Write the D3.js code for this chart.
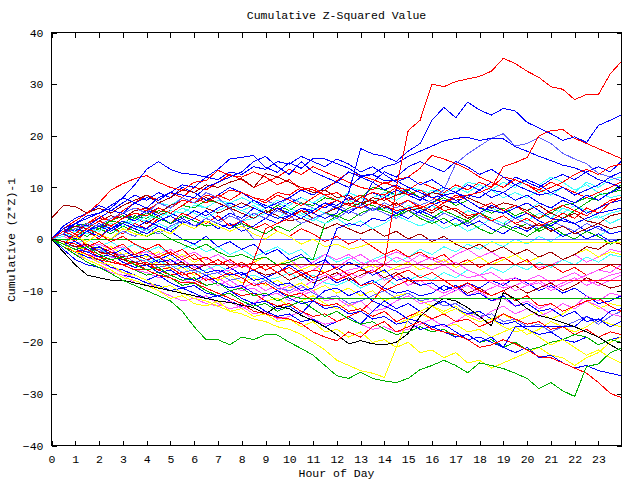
<!DOCTYPE html>
<html><head><meta charset="utf-8">
<script src="https://cdn.jsdelivr.net/npm/d3@7"></script>
<style>
body{margin:0;background:#fff}
svg{display:block}
text{font-family:"Liberation Mono","DejaVu Sans Mono",monospace;font-size:11.5px;fill:#000}
</style>
</head><body>
<svg id="c" width="640" height="480"></svg>
<script>
// ---- data ----
const hours=[0,0.5,1,1.5,2,2.5,3,3.5,4,4.5,5,5.5,6,6.5,7,7.5,8,8.5,9,9.5,10,10.5,11,11.5,12,12.5,13,13.5,14,14.5,15,15.5,16,16.5,17,17.5,18,18.5,19,19.5,20,20.5,21,21.5,22,22.5,23,23.5,23.95];
const xTickLabels=[0,1,2,3,4,5,6,7,8,9,10,11,12,13,14,15,16,17,18,19,20,21,22,23];
const yTickLabels=[-40,-30,-20,-10,0,10,20,30,40];

const redTop=[0,-1,1,-1.5,-0.5,-2,-1,-3, -2,-3.5,-2.5,-4,-3,-5,-4,-5.5, -4.5,-6,-5,-6.5,-5.5,-7,-6,-6.5, -5.5,-7,-6,-6.5,-5,10,21,23, 30,29.5,30.5,31,31.5,32.5,35,34, 32.5,31.3,29.5,29,27,28,28,32, 34.3];
const blueHigh=[0,1,2,1.5,3,2,3.5,2.5, 2,3.5,4.5,3,4,5.5,3.5,5, 4,6,5,4,4.5,6,5,4, 5,9,17.5,16.5,16,15,17,18.5, 23,25.5,23.5,26.5,25,24,25.3,24.8, 22.6,21.5,20.4,19.1,19.8,18.7,22,23, 24];
const blueArc=[0,1.5,3,4,5,6.5,8,7, 6,8,9,8.5,8,10,11,12, 13,15,16,14,12.5,15,13,12, 11,13,12,12.5,14,14.6,16,17, 18,19,19.5,19.7,19.1,19.5,19.4,17.9, 17,16,15.2,14.3,13.8,12.8,11.5,10.8, 10];
const blueEarly=[0,2,3,4.5,5,6,8,10.5, 13.5,15,13.5,12.7,12.5,12,13.5,15.5, 15.8,16.2,13.9,12.9,14.8,13.7,15.6,15.5, 14.6,13.7,12.3,12.5,11.3,11.3,10,9, 8,8.5,9,7.5,6,5.5,5,6, 7,5.5,4,3.5,3,4,5,5.5, 6];
const greenLow=[0,-1.5,-3,-4.5,-5.5,-6.7,-8,-9, -10,-11,-12,-14,-17,-19.5,-19.5,-20.5, -19,-19.5,-18.5,-18.6,-20,-21.2,-22.5,-24.5, -26.5,-27,-25.8,-27,-27.5,-27.8,-27,-25.3, -24.5,-23.5,-24.5,-25.9,-24,-24.5,-25.1,-26, -27,-29,-27.8,-29.4,-30.5,-24.7,-24.2,-22, -21.2];
const blackLow=[0,-2.5,-5,-7,-7.5,-8,-8,-8.5, -9,-9.5,-10,-10.5,-11,-11.5,-12,-12.3, -12.8,-13.3,-14.5,-13,-13.5,-14.8,-15.8,-17, -18.5,-20.3,-19.7,-20.3,-20.5,-20,-18.3,-15, -13,-11.5,-12,-13.3,-15,-16.8,-10.4,-11.6, -13.5,-14.8,-15.4,-16.2,-17,-18,-19,-20.5, -21.6];
const yellowDeep=[0,-1,-2.5,-3,-4.5,-5,-6.5,-7, -8,-9.5,-9,-10.5,-11.5,-12,-13,-14, -14.5,-15.5,-16,-17,-17.5,-18.5,-20,-21.5, -23.5,-24.5,-25.5,-26,-26.8,-21,-15.5,-14, -13,-14.5,-13.5,-15,-16,-15.5,-17,-18, -17.5,-19,-20.5,-19.5,-21,-22.5,-21.5,-23, -24];
const redDesc=[0,-1,-2,-3,-4,-4.5,-5,-6, -6,-7,-7.5,-8.5,-8.5,-9.5,-10.5,-11.5, -12.5,-14,-14.5,-15.2,-15.5,-16.4,-18,-19, -19.7,-18,-19,-17,-16,-18,-17,-16, -17.5,-18,-18.5,-19.5,-21,-20.5,-19.5,-20.3, -21.5,-22.8,-23,-24,-25,-26,-27.8,-29.9, -30.7];
const redRight=[0,1,2,3,4.5,3.5,5,6, 5.5,7,6,7.5,7,8.5,8,9.5, 9,8,7.5,9,8.5,10,9.5,8.5, 7.5,6.5,6,7,6.5,5.5,6,6.5, 5.5,7,8,8.5,9,10,14,14.8, 15.8,20,21,21.2,19.5,18.5,17.5,16.5, 15.6];
const redUpper=[0,2,3.5,5,7,9.5,10.7,11.7, 12.3,11,10,9.4,11,11.3,13.3,12.3, 12,13,12,10.5,11.5,9.5,10,8.5, 9,7.5,8.5,7,8,6.5,7.5,6, 7,5.5,6,4.5,5,3.5,4.5,3, 4,2.5,3.5,5,4,6,5,7, 8];
const darkRedTop=[4,6.5,6.3,5,6,5,6.5,7.5, 8.5,7,8,9.5,9,10.5,10,11, 11.7,10,12.7,12,11,10,9,9.5, 8,8.5,7,7.5,6,7,5.5,6, 5,6.5,5.5,4,5,3.5,4.5,3, 2,3,1.5,2.5,1,2,3,2, 2.5];
const cyan1=[0,0.5,1.5,1,2.5,2,3.5,3, 4.5,4,5.5,5,6.5,6,7.5,7, 8,7,6,7.5,6.5,8,7,8.5, 7.5,9,8,7,8.5,7.5,9,8, 9.5,8.8,10,9,10.5,9.5,8,9, 8,9.5,8.5,10,9,11,10,11.5, 12];
const cyan2=[0,-0.5,0.5,1.5,0.5,2,1,2.5, 1.5,3,2,3.5,2.5,4,3,4.5, 3.5,4,5,4,5.5,4.5,3.5,5, 4,5.5,6.5,5.5,6,5,6.5,5.5, 6.5,5,4,5.5,4.5,6,5,6.5, 5.5,7,6,5,6.5,5.5,4,5, 5.5];
const cyan3=[0,-0.5,-1,0,-1.5,-0.5,-2,-1, -2.5,-1.5,-3,-2,-1,-2.5,-1.5,-3, -2,-3.5,-2.5,-1.5,-3,-2,-4,-3, -4.5,-3.5,-5,-4,-3,-4.5,-3.5,-2, -3,-1.5,-2.5,-1,-2,-0.5,-1.5,0, -1,0.5,-0.5,1,0,1.5,0.5,2, 2.5];
const cyan4=[0,1,2,2.5,4,3.5,5,6, 5.5,7,6.5,8,7,6,7.5,6.5, 5.5,6.5,5,4,5.5,4.5,6,5, 6,7.5,6.5,8,9,8.5,10,9.5, 8.8,10,9,11,10.5,9.5,11,10, 11.5,10.5,12,11,9.5,10.5,9,8, 8.5];
const cyan5=[0,1,0.5,2,1.5,3,2.5,4, 3.5,5,4.5,6,5,4,5.5,6.5, 5.5,4.5,6,7,6,5,4,3, 4,2.5,3.5,2,3,4.5,3.5,2.5, 3.5,2,3,1.5,2.5,4,3,4.5, 3.5,5,4,6,5,3.5,4.5,3, 4];
const cyan6=[0,-1,-1.5,-2.5,-2,-3,-4,-3.5, -4.5,-4,-5.5,-5,-6.5,-6,-5,-6.5, -7.5,-7,-8,-7.5,-6.5,-8,-7,-8.5, -9,-8,-9.5,-8.5,-7.5,-9,-8,-7, -8,-6.5,-7.5,-6,-7,-5.5,-6.5,-5, -6,-4.5,-5.5,-4,-5,-3.5,-4.5,-3, -3.5];
const magenta1=[0,-1,-2,-3,-3.5,-4.5,-5,-6, -6.5,-7.5,-7,-8,-8.5,-7.5,-9,-8, -9.5,-8.5,-10,-9,-10.5,-9.5,-8,-7, -8,-6.5,-7.5,-6,-8,-7,-9,-8, -9.5,-10.5,-9.5,-11,-10,-12,-11.5,-13, -12,-13.5,-12.5,-14,-13,-11,-12,-10.5, -11];
const magenta2=[0,-0.5,-1.5,-2.5,-2,-3.5,-4,-5, -4.5,-6,-5.5,-7,-6.5,-8,-7.5,-9, -10,-9.5,-11,-10.5,-12,-11,-10,-12, -11.5,-13,-12,-14,-13.5,-12,-11,-12.5, -12,-11,-10,-9,-10.5,-9.5,-8.5,-10, -9,-8,-9.5,-8.5,-7.5,-9,-8,-7, -6.5];
const magenta3=[0,-1.5,-3,-4,-5,-6.5,-7,-8.5, -9,-10,-11,-12,-11.5,-12.5,-13,-12, -13.5,-12.5,-11,-10,-9,-10.5,-9.5,-8, -7,-6,-5.5,-4,-5,-3.5,-4.5,-3, -4,-5,-4.5,-6,-7,-6.5,-8,-7.5, -9,-8.5,-10,-9,-8,-7,-6,-6.5, -5];
const magenta4=[0,-0.5,-1.5,-1,-2.5,-2,-3.5,-3, -4,-3,-2,-3.5,-2.5,-4,-3,-4.5, -5.5,-4.5,-6,-5,-4,-5.5,-4.5,-3, -4,-3,-4.5,-5.5,-5,-6,-5.5,-4.5, -3.5,-4.5,-3,-2,-3.5,-2.5,-4,-3, -4.5,-5.5,-5,-4,-3,-4.5,-3.5,-2, -2.5];
const magenta5=[0,-1,-2.5,-3.5,-4.5,-5.5,-6.5,-7.5, -8.5,-9.5,-9,-10.5,-11.5,-11,-12.5,-13.5, -13,-14.5,-14,-15.5,-15,-14,-15.5,-16.5, -16,-15,-16.5,-17.5,-17,-18,-17.5,-16.5, -15.5,-17,-16,-14.5,-15.5,-14,-13,-14.5, -13.5,-15,-14,-12.5,-13.5,-12,-13,-14.5, -15];
const magenta6=[0,0.5,-0.5,-1.5,-1,-2,-1.5,-3, -2.5,-3.5,-4.5,-4,-5.5,-5,-6.5,-6, -5,-6,-7,-6.5,-5.5,-7,-6,-4.5, -5.5,-4,-3,-4.5,-3.5,-2.5,-3.5,-5, -6,-5,-6.5,-7.5,-7,-8.5,-9.5,-9, -8,-7,-8.5,-7.5,-6.5,-8,-9,-8, -7];
const yellow2=[0,-1.5,-2.5,-4,-5,-6,-7.5,-8, -9,-10,-11.5,-11,-12.5,-13,-12,-14, -13.5,-15,-14.5,-16,-15.5,-17,-16,-18, -17.5,-19,-18,-20,-19.5,-21,-20,-22, -21.5,-23,-22,-24,-23.5,-25,-24,-23, -22,-21,-22.5,-23,-24.5,-23,-22,-20, -19];
const yellow3=[0,-0.5,-1.5,-2,-3,-2.5,-4,-3.5, -5,-4.5,-6,-5.5,-7,-6.5,-8,-7, -8.5,-7.5,-9,-8,-9.5,-8.5,-10,-9, -10.5,-9.5,-11,-10,-12,-11,-10.5,-12, -13,-14,-13,-15,-14,-15.5,-14.5,-16, -15,-14,-15.5,-14.5,-13,-12,-13.5,-12.5, -13];
const yellow4=[0,-0.5,0.5,-1,-2,-1.5,-3,-2.5, -3.5,-2.5,-4,-3,-4.5,-3.5,-5,-4, -5.5,-4.5,-3.5,-5,-4,-6,-5,-6.5, -5.5,-7,-6,-5,-6.5,-5.5,-4.5,-6, -5,-4,-5.5,-4.5,-3.5,-5,-4,-3, -4.5,-3.5,-2.5,-4,-3,-2,-3.5,-2.5, -3];
const yellow5=[0,-1,-2,-1.5,-3,-4,-3.5,-5, -6,-5.5,-7,-6.5,-8,-9,-8.5,-10, -11,-10.5,-12,-11.5,-13,-12,-11,-12.5, -13.5,-12.5,-14,-15.5,-15,-16.5,-15.5,-14.5, -15.5,-17,-16.5,-18,-17.5,-19,-18,-17, -18.5,-17.5,-16,-17,-18,-17,-15.5,-16.5, -17];
const blue5=[0,-1,-2.5,-3.5,-4,-5.5,-6,-7, -8,-7,-8.5,-9.5,-9,-10.5,-11,-10, -11.5,-12.5,-12,-13.5,-13,-14.5,-12,-10, -9.5,-11,-10,-12,-13,-14,-15.5,-16, -17,-16.5,-18,-19.5,-19,-20,-21,-22, -21,-23,-22.5,-24,-25,-24.5,-25.5,-26, -26.5];
const blue6=[0,1,0,1.5,0.5,2,3,2, 1,2.5,1.5,0,-1,0.5,-1.5,-0.5, -2,-1,-3,-2,-4,-3,-5,-4, -6,-4.5,-5.5,-7,-6,-8,-7.5,-9, -8.5,-10,-9,-11,-10.5,-12,-11,-13, -12.5,-14,-13.5,-15,-14,-16,-15.5,-17, -16];
const blue7=[0,2,1.5,3,4.5,3.5,5,4, 5.5,4.5,3,4,2.5,3.5,2,3, 1.5,2.5,4,3,4.5,6,5.5,7, 6.5,8,7,5.5,6.5,5,4,5.5, 4.5,3,4,2.5,3.5,2,1,2.5, 1.5,3,2,0.5,1.5,0,1,-0.5, 0];
const blue8=[0,-1,-0.5,-2,-1.5,-3,-2,-3.5, -3,-4.5,-4,-5.5,-5,-6.5,-6,-7, -6.5,-8,-7.5,-9,-8.5,-10,-9.5,-4, 2,3,2.5,4,3.5,5,6,5, 6.5,7.5,7,8.5,8,9.5,9,10.5, 9.5,8.5,9,8,7,8.5,7.5,9, 10];
const blue9=[0,2.5,4,5,6.5,5.5,7,8.5, 7.5,9,8,10,9,7.5,8.5,10, 9,7.5,6,7,8,9.5,8.5,10, 11,10,12,11,9.5,10.5,9,8, 7,8.5,7.5,6,5,6.5,5.5,4, 5,3.5,2.5,4,3,1.5,2.5,1, 1.5];
const blue10=[0,-1,-2,-2.5,-1.5,-3,-4,-3.5, -5,-4,-3,-4.5,-6,-5,-6.5,-5.5, -7,-6,-7.5,-6.5,-5,-6.5,-8,-7, -8.5,-7.5,-9,-8,-9.5,-10.5,-10,-11, -10.5,-9,-10,-8.5,-9.5,-8,-9,-7.5, -8.5,-10,-9,-10.5,-9.5,-11,-12.5,-12, -11];
const blue11=[0,1,3,2.5,4,5.5,5,7, 8,7.5,9,10.5,10,12,11.5,13, 12.5,14,13.5,15,14.5,16,15,14, 15.5,14.5,13,14,12.5,11,12,10.5, 11.5,10,9,10.5,9.5,8,9,7.5, 8.5,7,6,7.5,6.5,5,6,7, 7.5];
const blue12=[0,0.5,1.5,3,2,3.5,4.5,3.5, 5,6,5,4,5.5,4.5,6,7, 6,7.5,6.5,5.5,7,8,7,6, 7.5,6.5,8,9,8,9.5,8.5,7.5, 9,10,9,8,9.5,11,10,12, 11,10,11.5,12.5,11.5,13,14,13, 15];
const blue13=[0,-2,-4,-5,-5.5,-6.5,-7,-7.5, -8.5,-9,-10,-9.5,-10.5,-11.5,-11,-12, -13,-12.5,-14,-15,-14.5,-16,-15.5,-17, -16,-15,-16.5,-14,-12,-13.5,-12.5,-14, -13,-12,-13.5,-14.5,-14,-15.5,-16.5,-16, -17.5,-18.5,-18,-19.5,-20,-19,-20.5,-19.5, -19];
const blue14=[0,1,0,1.5,2.5,1.5,3,2, 3.5,2.5,1.5,3,2,4,3,2, 3.5,5,4,6,5,4,5.5,7, 6,5,6.5,11,13,12,14,15, 14,13,15,14,12.5,13.5,12,10.5, 11.5,10.5,9,10,8.5,9.5,10.5,12, 13];
const green3=[0,1,2.5,3,2,3.5,4.5,4, 5,4,3,4.5,3.5,2.5,3,2, 3,2,1,2.5,1.5,3,4,5, 4.5,6,7,6.5,5.5,4.5,5.5,4, 3,4,2.5,3.5,2,1,2.5,1.5, 0.5,2,3,4,5.5,7,8.5,9, 9.5];
const green4=[0,-1,-2,-2.5,-3.5,-4.5,-5,-6, -7,-6.5,-7.5,-9,-8.5,-10,-11,-10.5, -12,-13,-12.5,-14,-13,-12,-13.5,-15, -14,-15.5,-16.5,-16,-17.5,-18.5,-18,-17, -18,-17.5,-19,-18.5,-20,-19.5,-21,-20, -21.5,-21,-20,-19.5,-18.5,-19,-20.5,-19.5, -20];
const green5=[0,0.5,1.5,0.5,2,1,2.5,1.5, 0.5,1.5,0,-1,-2,-1,-2.5,-3.5, -3,-4,-3.5,-5,-4.5,-3.5,-4,3, 4.5,3.5,5,6,5.5,4.5,6,5, 4,5.5,4.5,3.5,5,4,3,2, 3,1.5,2.5,1,0,1.5,0.5,-1, 0];
const green6=[0,1.5,2,1,2.5,3.5,3,4.5, 4,5.5,5,6.5,6,7.5,7,6, 7,6,5,6.5,5.5,7,6.5,8, 7.5,9,8,10,9.5,8.5,9.5,8, 7,8,6.5,7.5,6,5,6,4.5, 5.5,4,5,6.5,7,8,7.5,9, 10.5];
const red3=[0,1,-0.5,1.5,0,2.5,1,3, 2,4,3,5,4,3,4.5,2.5, 3.5,2,3,1.5,0.5,2,1,-0.5, 0.5,-1,0,-1.5,-3,-2,-3.5,-2.5, -4,-3,-5,-4,-5.5,-4.5,-3.5,-5, -4,-6,-5,-6.5,-5.5,-7,-6,-5, -6];
const red4=[0,-1.5,-2.5,-2,-3.5,-4,-5,-4.5, -6,-5.5,-7,-8,-7.5,-9,-8.5,-10, -9.5,-4,2,3,4,5.5,5,6.5, 7.5,6.5,8,9,8.5,10,9.5,11, 10,9,10.5,9.5,11,10,12,11.5, 10.5,9.5,11,10,9,8,9,10, 11];
const red5=[0,-0.5,-1,-2,-3,-2.5,-4,-5, -4.5,-6,-7,-6.5,-8,-9,-8.5,-10, -11,-10.5,-12,-13,-12.5,-14,-15,-14.5, -16,-15,-14,-12,-9,-7,-6,-7.5, -6.5,-8,-9.5,-8.5,-10,-11,-10,-12, -11,-13,-12.5,-14,-13,-12,-11.5,-13, -14];
const red6=[0,1.5,0.5,2,3.5,2.5,4,5, 4.5,6,5,6.5,8,7,8.5,7.5, 9,8,7,8.5,7.5,6.5,8,9.5, 11.3,12.9,12.3,11.5,10.7,11.5,12,13.7, 16.2,15.5,14.6,13.5,12,11,10,11.5, 10.5,9,10,11,12.5,13.5,12.5,14, 14.5];
const red7=[0,2,1,3,4,3.5,5.5,7, 8.5,7.5,9,8,10,9.5,11,12.5, 11.5,10,11,12,13.5,12.5,14,13, 12,11,10,9.5,11,10,8.5,9.5, 8,7,8.5,7.5,6,7,5.5,6.5, 5,4,5.5,6.5,5.5,4.5,6,7.5, 8];
const red8=[0,-1,-0.5,-2,-3,-2.5,-4,-3.5, -5,-6,-5.5,-7,-6.5,-8,-7.5,-6.5, -7.5,-9,-8.5,-10,-11,-10.5,-12,-13, -12.5,-14,-13.5,-15,-14,-16,-15,-14, -15.5,-14.5,-16,-15.5,-17,-16,-14.5,-15.5, -16.5,-16,-17.5,-17,-18.5,-17.5,-19,-18, -18.5];
const darkRed2=[0,0.5,1.5,1,2,3,2.5,4, 3,4.5,5.5,5,6.5,6,5,6, 5,4,5.5,4.5,3.5,4,3,2, 3,2,1,2,0.5,1.5,0,1, -0.5,0.5,-1,-2,-1,-2.5,-1.5,-3, -2,-3.5,-2.5,-4,-3,-1.5,-2,-0.5, -1];
const darkRed3=[0,1.5,2.5,2,3.5,4.5,4,5.5, 6,5,6.5,7.5,7,8,7,6, 7,6,5,6,4.5,5.5,4,5, 6,7,6.5,8,7.5,8.5,9,8, 9,8.5,7.5,8,7,6,7,6.5, 5.5,6.5,5,4,5,3.5,3,4.5, 5];
const darkRed4=[0,-0.5,-1,-2,-1.5,-2.5,-3.5,-3, -4,-3.5,-5,-4.5,-6,-5,-4,-5.5, -4.5,-6,-7,-6.5,-8,-7,-8.5,-7.5, -6.5,-8,-7,-6,-7.5,-6.5,-8,-9, -8.5,-10,-9,-10.5,-9.5,-11,-10,-9, -10.5,-9.5,-8.5,-10,-9,-7.5,-8.5,-9.5, -9];
const slate2=[0,-1,0.5,-0.5,1,0,1.5,0.5, 2,1,2.5,3.5,2.5,4,3,4.5, 3.5,5,4,5.5,4.5,3,4,5, 4,5.5,6.5,5.5,7,6,7.5,6.5, 7.5,9.5,14.6,16.5,18,19.5,20.4,18, 18.5,19.7,18.5,16.6,15.5,14.6,12.7,12, 11.3];
const slate3=[0,-1,-1.5,-2.5,-2,-3.5,-3,-4.5, -4,-5.5,-5,-6.5,-6,-7,-6.5,-8, -7.5,-9,-8,-9.5,-10,-9,-10.5,-11.5, -11,-12.5,-12,-11,-10,-11.5,-10.5,-12, -11.5,-13,-12.5,-14,-15,-14.5,-16,-15.5, -17,-16.5,-18,-17,-16,-15,-16.5,-15, -14];
const slate4=[0,0.5,1.5,2.5,2,3.5,4.5,4, 5.5,5,6.5,7.5,7,8.5,8,9.5, 9,8,7.5,6.5,8,7,6,5, 6.5,5.5,4.5,6,5,4,5.5,4.5, 3.5,5,4,3,4.5,3.5,2.5,4, 3,2,3.5,2.5,1.5,3,2,1, 1.5];
const blueFlat17=[0,-1,-2,-2.5,-3.5,-3,-4.5,-5.5, -5,-6.5,-6,-7.5,-8,-7,-8.5,-9.5, -9,-10.5,-11,-10,-11.5,-12.5,-12,-13.5, -13,-14.5,-14,-15.5,-15,-16.5,-16,-17.5, -17,-18,-19,-18.5,-20,-19,-21,-17, -17,-17,-17,-17,-17,-15,-16,-14, -13.5];
const greenFlat0=[0,0,0,0,0,0,0,0, 0,0,0,0,0,0,0,0, 0,0,0,0,0,0,0,0, 0,0,0,0,0,0,0,0, 0,0,0,0,0,0,0,0, 0,0,0,0,0,0,0,0, 0];
const slateFlat0=[0,1,2,3,2.5,4,5,6, 5,7,6,8,7,9,8,6, 3,0,0,0,0,0,0,0, 0,0,0,0,0,0,0,0, 0,0,0,0,0,0,0,0, 0,0,0,0,0,0,0,0, 0];
const yellowFlat=[0,-1,0.5,-0.5,1,0,2,1, 0.5,2,1,3,2,3.5,2.5,1.5, 2.5,1,0,1.5,0.5,-1,0,-1.5, -1,-2,-1.5,-0.6,-0.6,-0.6,-0.6,-0.6, -0.6,-0.6,-0.6,-0.6,-0.6,-0.6,-0.6,-0.6, -0.6,-0.6,-0.6,-0.6,-0.6,-0.6,-0.6,-0.6, -0.6];
const darkRedFlat=[0,-0.5,-1.5,-1,-2.5,-3,-4,-4.5, -5,-5,-5,-5,-5,-5,-5,-5, -5,-5,-5,-5,-5,-5,-5,-5, -5,-5,-5,-5,-5,-5,-5,-5, -5,-5,-5,-5,-5,-5,-5,-5, -5,-5,-5,-5,-5,-5,-5,-5, -5];
const redFlat=[0,1.5,0.5,2,1,-0.5,0.5,-1, -2,-1,-3,-2,-4,-3.5,-5,-4, -5.5,-4.5,-6,-5,-7,-6,-7.5,-6.5, -8,-7,-9,-8.5,-10,-9,-8,-8, -8,-8,-8,-8,-8,-8,-8,-8, -8,-8,-8,-8,-8,-8,-8,-8, -8];
const greenFlat=[0,-1,-2,-1.5,-3,-4,-3.5,-5, -6,-5.5,-7,-8,-7.5,-9,-8.5,-10, -9.5,-11,-10.5,-12,-11,-11.5,-11.5,-11.5, -11.5,-11.5,-11.5,-11.5,-11.5,-11.5,-11.5,-11.5, -11.5,-11.5,-11.5,-11.5,-11.5,-11.5,-11.5,-11.5, -11.5,-11.5,-11.5,-11.5,-11.5,-11.5,-11.5,-11.5, -11.5];

const RED="#ff0000",GREEN="#00b000",BLUE="#0000ff",MAG="#ff50ff",CYAN="#40ffff",DRED="#a00000",YEL="#ffff00",BLK="#000000",SLATE="#6060ff";

const series=[
  {v:cyan3,c:CYAN},{v:magenta4,c:MAG},{v:yellow4,c:YEL},{v:blue10,c:BLUE},
  {v:cyan6,c:CYAN},{v:magenta6,c:MAG},{v:yellow5,c:YEL},{v:darkRed4,c:DRED},
  {v:cyan2,c:CYAN},{v:darkRed2,c:DRED},{v:green5,c:GREEN},{v:magenta1,c:MAG},
  {v:cyan5,c:CYAN},{v:slate4,c:SLATE},{v:green6,c:GREEN},{v:blue12,c:BLUE},
  {v:yellow3,c:YEL},{v:blue7,c:BLUE},{v:cyan1,c:CYAN},{v:red3,c:RED},
  {v:magenta2,c:MAG},{v:slate3,c:SLATE},{v:green3,c:GREEN},{v:blue6,c:BLUE},
  {v:magenta5,c:MAG},{v:red8,c:RED},{v:blue13,c:BLUE},
  {v:cyan4,c:CYAN},{v:darkRed3,c:DRED},{v:magenta3,c:MAG},{v:yellow2,c:YEL},
  {v:red5,c:RED},{v:blue9,c:BLUE},{v:green4,c:GREEN},{v:blue5,c:BLUE},
  {v:red4,c:RED},{v:blue8,c:BLUE},{v:blue14,c:BLUE},{v:slate2,c:SLATE},{v:red6,c:RED},
  {v:red7,c:RED},{v:blue11,c:BLUE},
  {v:darkRedTop,c:DRED},{v:redUpper,c:RED},{v:blueFlat17,c:BLUE},
  {v:yellowDeep,c:YEL},{v:blackLow,c:BLK},{v:redDesc,c:RED},{v:greenLow,c:GREEN},
  {v:blueEarly,c:BLUE},{v:blueArc,c:BLUE},{v:redRight,c:RED},{v:blueHigh,c:BLUE},{v:redTop,c:RED},
  {v:greenFlat0,c:GREEN},{v:slateFlat0,c:SLATE},{v:yellowFlat,c:YEL},
  {v:darkRedFlat,c:DRED},{v:redFlat,c:RED},{v:greenFlat,c:GREEN}
];

// ---- chart ----
const L=51.5,R=621.5,T=32.5,B=445.5;
const svg=d3.select("#c");
const x=d3.scaleLinear().domain([0,23.97]).range([L,R]);
const y=d3.scaleLinear().domain([-40,40]).range([B,T]);

const line=d3.line().x((d,i)=>x(hours[i])).y(d=>y(d));
const g=svg.append("g");
g.selectAll("path.s").data(series).join("path")
  .attr("class","s").attr("d",d=>line(d.v))
  .attr("fill","none").attr("stroke",d=>d.c).attr("stroke-width",1)
  .attr("shape-rendering","crispEdges");

function styleAxis(sel){
  sel.select(".domain").remove();
  sel.selectAll("line").attr("stroke","#000").attr("shape-rendering","crispEdges");
  sel.selectAll("text").attr("font-family",null).attr("font-size",null).attr("fill","#000");
}
svg.append("g").attr("transform",`translate(0,${B})`)
  .call(d3.axisBottom(x).tickValues(xTickLabels).tickFormat(d3.format("d")).tickSize(-5).tickPadding(9))
  .call(styleAxis);
svg.append("g").attr("transform",`translate(0,${T})`)
  .call(d3.axisTop(x).tickValues(xTickLabels).tickFormat("").tickSize(-5))
  .call(styleAxis);
svg.append("g").attr("transform",`translate(${L},0)`)
  .call(d3.axisLeft(y).tickValues(yTickLabels).tickFormat(d3.format("d")).tickSize(-5).tickPadding(8))
  .call(styleAxis);
svg.append("g").attr("transform",`translate(${R},0)`)
  .call(d3.axisRight(y).tickValues(yTickLabels).tickFormat("").tickSize(-5))
  .call(styleAxis);
svg.selectAll("text").style("font-family",'"Liberation Mono","DejaVu Sans Mono",monospace').style("font-size","11.5px");

svg.append("rect").attr("x",L).attr("y",T).attr("width",R-L).attr("height",B-T)
  .attr("fill","none").attr("stroke","#000").attr("shape-rendering","crispEdges");

svg.append("text").attr("x",(L+R)/2).attr("y",19).attr("text-anchor","middle").text("Cumulative Z-Squared Value");
svg.append("text").attr("x",(L+R)/2).attr("y",477).attr("text-anchor","middle").text("Hour of Day");
svg.append("text").attr("transform","translate(15,240) rotate(-90)").attr("text-anchor","middle").text("Cumulative (Z*Z)-1");
</script>
</body></html>
